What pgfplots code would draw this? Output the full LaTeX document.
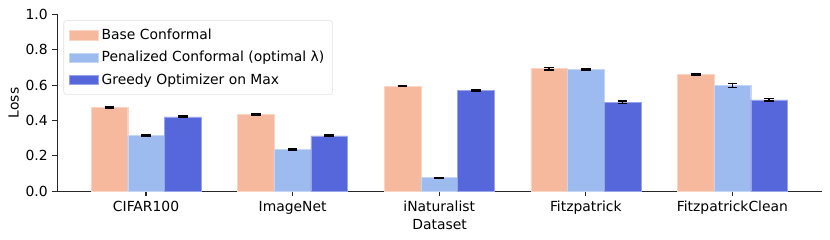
\documentclass[border=0pt]{standalone}
\usepackage{fontspec}
\setmainfont{DejaVu Sans}
\usepackage{pgfplots}
\pgfplotsset{compat=1.18}
\definecolor{cbase}{RGB}{246,185,157}
\definecolor{cpen}{RGB}{157,187,239}
\definecolor{cgre}{RGB}{85,103,218}
\definecolor{axc}{RGB}{40,40,40}
\begin{document}
\begin{tikzpicture}
\useasboundingbox (-41.3pt,-35.1pt) rectangle (556.3pt,137.7pt);
\begin{axis}[
  at={(0,0)}, anchor=south west,
  scale only axis,
  width=550.4pt, height=127.4pt,
  xmin=-0.605, xmax=4.61,
  ymin=0, ymax=1.0,
  xtick={0,1,2,3,4},
  xticklabels={CIFAR100,ImageNet,iNaturalist,Fitzpatrick,FitzpatrickClean},
  ytick={0,0.2,0.4,0.6,0.8,1.0},
  yticklabel style={/pgf/number format/.cd,fixed,fixed zerofill,precision=1},
  /pgf/number format/assume math mode=true,
  axis x line*=bottom, axis y line*=left,
  axis line style={axc, line width=0.8pt},
  tick align=outside,
  major tick length=3.5pt,
  tick style={axc, line width=0.8pt},
  ticklabel style={font=\fontsize{10}{12}\selectfont},
  xlabel={Dataset}, ylabel={Loss},
  label style={font=\fontsize{10}{12}\selectfont},
  xlabel style={yshift=3pt},
  ylabel style={yshift=-2pt},
  ybar, bar width=0.25,
  legend style={at={(0.008,0.966)}, anchor=north west, draw=black!12, rounded corners=2pt,
    font=\fontsize{10}{12}\selectfont, row sep=3pt, inner xsep=4pt, inner ysep=4pt,
    cells={anchor=west}},
  legend image code/.code={\fill[#1, sharp corners] (0pt,-3.3pt) rectangle (21pt,3.3pt);},
  error bars/y dir=both, error bars/y explicit,
  error bars/error bar style={black, line width=1.1pt},
  error bars/error mark options={black, mark size=3.5pt, line width=1.1pt, rotate=90},
]
\addplot[fill=cbase, draw=cbase!60!white, line width=0.3pt, bar shift=-0.25] coordinates {
 (0,0.475) +- (0,0.004)
 (1,0.433) +- (0,0.003)
 (2,0.594) +- (0,0.003)
 (3,0.693) +- (0,0.007)
 (4,0.659) +- (0,0.004)
};
\addlegendentry{Base Conformal}
\addplot[fill=cpen, draw=cpen!60!white, line width=0.3pt, bar shift=0] coordinates {
 (0,0.315) +- (0,0.003)
 (1,0.237) +- (0,0.003)
 (2,0.077) +- (0,0.002)
 (3,0.689) +- (0,0.004)
 (4,0.598) +- (0,0.011)
};
\addlegendentry{Penalized Conformal (optimal λ)}
\addplot[fill=cgre, draw=cgre!60!white, line width=0.3pt, bar shift=0.25] coordinates {
 (0,0.420) +- (0,0.004)
 (1,0.313) +- (0,0.004)
 (2,0.571) +- (0,0.004)
 (3,0.503) +- (0,0.008)
 (4,0.516) +- (0,0.007)
};
\addlegendentry{Greedy Optimizer on Max}
\end{axis}
\end{tikzpicture}
\end{document}
